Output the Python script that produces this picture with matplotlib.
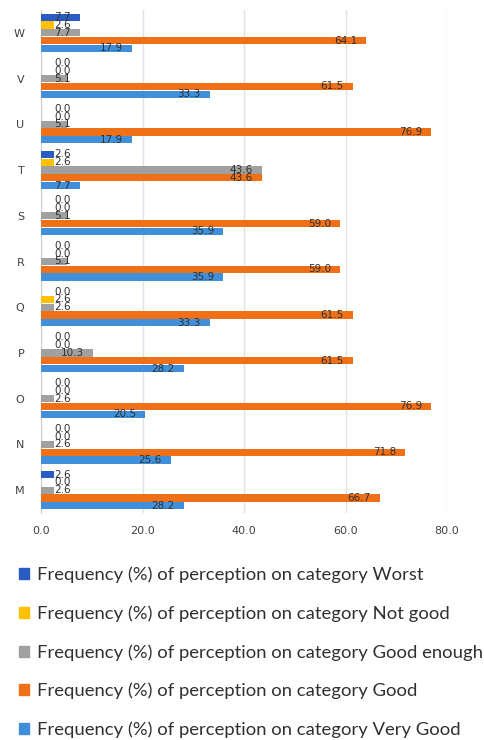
import numpy as np
import matplotlib
matplotlib.use("Agg")
import matplotlib.pyplot as plt
from matplotlib.patches import Patch

categories = ["M", "N", "O", "P", "Q", "R", "S", "T", "U", "V", "W"]

# values per category, bottom (M) to top (W)
very_good = [28.2, 25.6, 20.5, 28.2, 33.3, 35.9, 35.9, 7.7, 17.9, 33.3, 17.9]
good = [66.7, 71.8, 76.9, 61.5, 61.5, 59.0, 59.0, 43.6, 76.9, 61.5, 64.1]
good_enough = [2.6, 2.6, 2.6, 10.3, 2.6, 5.1, 5.1, 43.6, 5.1, 5.1, 7.7]
not_good = [0.0, 0.0, 0.0, 0.0, 2.6, 0.0, 0.0, 2.6, 0.0, 0.0, 2.6]
worst = [2.6, 0.0, 0.0, 0.0, 0.0, 0.0, 0.0, 2.6, 0.0, 0.0, 7.7]

series_names = ["Very Good", "Good", "Good enough", "Not good", "Worst"]
series_vals = [very_good, good, good_enough, not_good, worst]
colors = ["#3F8FDA", "#F07018", "#A0A0A0", "#FFC000", "#2A5DC4"]

fig = plt.figure(figsize=(4.85, 7.4), dpi=100)
ax = fig.add_axes([41 / 485, 1 - 513 / 740, (447 - 41) / 485, (513 - 10) / 740])

y = np.arange(len(categories))
h = 0.17
for i, (name, vals, col) in enumerate(zip(series_names, series_vals, colors)):
    pos = y + (i - 2) * h
    ax.barh(pos, vals, height=h * 0.93, color=col, zorder=3)
    for p, v in zip(pos, vals):
        xr = max(v - 1.8, 5.9)
        ax.text(xr, p, f"{v:.1f}", ha="right", va="center", fontsize=7.5,
                color="#303030", zorder=4)

ax.set_xlim(0, 80)
ax.set_ylim(-0.5, len(categories) - 0.5)
ax.set_xticks([0, 20, 40, 60, 80])
ax.set_xticklabels([f"{t:.1f}" for t in [0, 20, 40, 60, 80]])
ax.set_yticks(y)
ax.set_yticklabels(categories)
ax.tick_params(axis="both", length=0, labelsize=8, colors="#404040")
ax.tick_params(axis="x", pad=9)
ax.tick_params(axis="y", pad=12)
ax.grid(axis="x", color="#DCE1EA", linewidth=1, zorder=0)
for s in ["top", "right", "bottom"]:
    ax.spines[s].set_visible(False)
ax.spines["left"].set_color("#D0D0D0")

handles = [Patch(color=c) for c in reversed(colors)]
labels = [f"Frequency (%) of perception on category {n}" for n in reversed(series_names)]
fig.legend(handles, labels, loc="upper left", bbox_to_anchor=(2 / 485, 1 - 550 / 740),
           frameon=False, handlelength=0.55, handleheight=0.55, handletextpad=0.45,
           labelspacing=1.2, prop={"family": "Lato", "size": 13.3}, labelcolor="#303030")

fig.savefig("out.png", dpi=100)
